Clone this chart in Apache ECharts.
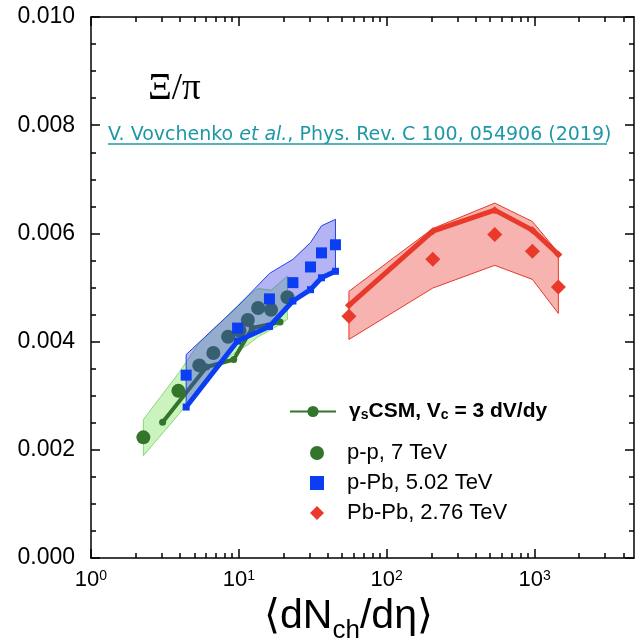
<!DOCTYPE html>
<html><head><meta charset="utf-8">
<script src="https://cdn.jsdelivr.net/npm/echarts@6/dist/echarts.min.js"></script>
<style>html,body{margin:0;padding:0;background:#fff}#c{width:635px;height:643px}</style>
</head><body><div id="c"></div>
<script>
// ---- tick values ----
const xMajorTicks = [1, 10, 100, 1000];
const xMinorTicks = [2,3,4,5,6,7,8,9,20,30,40,50,60,70,80,90,200,300,400,500,600,700,800,900,2000,3000,4000];
const yTickValues = [0, 0.002, 0.004, 0.006, 0.008, 0.010];

// ---- p-p, 7 TeV ----
const ppX = [2.26, 3.90, 5.40, 6.72, 8.45, 10.1, 11.5, 13.5, 16.5, 21.3];
const ppY = [0.00223, 0.00309, 0.00356, 0.00379, 0.00409, 0.00420, 0.00440, 0.00462, 0.00459, 0.00482];
const ppBandUpper = [0.00256, 0.00341, 0.00398, 0.00423, 0.00449, 0.00470, 0.00484, 0.00498, 0.00495, 0.00521];
const ppBandLower = [0.00189, 0.00265, 0.00311, 0.00339, 0.00370, 0.00385, 0.00394, 0.00409, 0.00422, 0.00441];
const ppModelX = [3.05, 6.04, 9.23, 12.3, 19.0];
const ppModelY = [0.00251, 0.00353, 0.00367, 0.00425, 0.00436];

// ---- p-Pb, 5.02 TeV ----
const pPbX = [4.4, 9.8, 16.1, 23.2, 30.5, 36.2, 45];
const pPbY = [0.00338, 0.00425, 0.00479, 0.00509, 0.00538, 0.00564, 0.00579];
const pPbModelY = [0.00279, 0.00401, 0.00428, 0.00475, 0.00496, 0.00518, 0.00530];
const pPbBandUpper = [0.00376, 0.00465, 0.00526, 0.00552, 0.00583, 0.00614, 0.00626];

// ---- Pb-Pb, 2.76 TeV ----
const PbPbX = [55.5, 205, 537.5, 966, 1447.5];
const PbPbY = [0.00447, 0.00552, 0.00598, 0.00567, 0.00501];
const PbPbModelY = [0.00467, 0.00604, 0.00643, 0.00606, 0.00561];
const PbPbBandUpper = [0.00493, 0.00609, 0.00656, 0.00622, 0.00564];
const PbPbBandLower = [0.00404, 0.00499, 0.00541, 0.00515, 0.00452];

const GREEN = '#33752b', BLUE = '#0b3ef2', RED = '#e8392a';
const zip = (xs, ys) => xs.map((x, i) => [x, ys[i]]);

function band(xs, upper, lower, fill, stroke, z) {
  return {
    type: 'custom', z: z, silent: true, animation: false,
    data: [[xs[0], upper[0]]],
    renderItem: function (params, api) {
      const pts = [];
      for (let i = 0; i < xs.length; i++) pts.push(api.coord([xs[i], upper[i]]));
      for (let i = xs.length - 1; i >= 0; i--) pts.push(api.coord([xs[i], lower[i]]));
      return { type: 'polygon', shape: { points: pts }, style: { fill: fill, stroke: stroke, lineWidth: 1 } };
    }
  };
}

const chart = echarts.init(document.getElementById('c'));
const supFmt = v => '{b|10}{s|' + Math.round(Math.log10(v)) + '}';
const axisLineStyle = { color: '#000', width: 1.5 };
const xBase = { type: 'log', logBase: 10, min: 1, max: 4700, gridIndex: 0, splitLine: { show: false } };

chart.setOption({
  animation: false,
  backgroundColor: '#fff',
  grid: { left: 91, right: 1, top: 17, bottom: 85, containLabel: false, outerBoundsMode: 'none' },
  title: [
    { text: 'Ξ/π', left: 143, top: 66, textStyle: { fontFamily: 'Liberation Serif', fontSize: 37, fontWeight: 'normal', color: '#000' } },
    { text: '{n|V. Vovchenko }{i|et al.}{n|, Phys. Rev. C 100, 054906 (2019)}', left: 103, top: 121,
      textStyle: { fontWeight: 'normal', rich: {
        n: { fontFamily: 'DejaVu Sans', fontSize: 19, fontWeight: 'normal', color: '#1e98a6' },
        i: { fontFamily: 'DejaVu Sans', fontSize: 19, fontWeight: 'normal', fontStyle: 'italic', color: '#1e98a6' } } } }
  ],
  graphic: [
    { type: 'line', shape: { x1: 108, y1: 144, x2: 607, y2: 144 }, style: { stroke: '#1e98a6', lineWidth: 1.5 } }
  ],
  legend: [
    { orient: 'vertical', left: 284, top: 396, itemWidth: 46, itemHeight: 14, itemGap: 9,
      data: ['model'],
      formatter: () => '{b|γ}{bs|s}{b|CSM, V}{bs|c}{b| = 3 dV/dy}',
      textStyle: { padding: [0, 0, 0, 8], rich: {
        b: { fontFamily: 'Liberation Sans', fontSize: 21, fontWeight: 'bold', color: '#000' },
        bs: { fontFamily: 'Liberation Sans', fontSize: 14, fontWeight: 'bold', color: '#000', verticalAlign: 'bottom', padding: [8, 0, 0, 0] } } } },
    { orient: 'vertical', left: 305, top: 437, itemWidth: 14, itemHeight: 14, itemGap: 8,
      data: ['p-p, 7 TeV', 'p-Pb, 5.02 TeV', 'Pb-Pb, 2.76 TeV'],
      textStyle: { fontFamily: 'Liberation Sans', fontSize: 22, color: '#000', padding: [0, 0, 0, 18] } }
  ],
  xAxis: [
    Object.assign({}, xBase, { position: 'bottom',
      axisLine: { show: true, lineStyle: axisLineStyle },
      axisTick: { show: true, inside: true, length: 9, customValues: xMajorTicks, lineStyle: axisLineStyle },
      axisLabel: { show: true, customValues: xMajorTicks, formatter: supFmt, margin: 11,
        rich: { b: { fontFamily: 'Liberation Sans', fontSize: 22, color: '#000' },
                s: { fontFamily: 'Liberation Sans', fontSize: 14, color: '#000', verticalAlign: 'top' } } },
      name: '{a|⟨dN}{c|ch}{a|/dη⟩}', nameLocation: 'middle', nameGap: 31,
      nameTextStyle: { padding: [0, 28, 0, 0], rich: {
        a: { fontFamily: 'Liberation Sans', fontSize: 41, color: '#000' },
        c: { fontFamily: 'Liberation Sans', fontSize: 26, color: '#000', verticalAlign: 'bottom', padding: [28, 0, 0, 0] } } } }),
    Object.assign({}, xBase, { position: 'bottom',
      axisLine: { show: false },
      axisTick: { show: true, inside: true, length: 5, customValues: xMinorTicks, lineStyle: axisLineStyle },
      axisLabel: { show: false } }),
    Object.assign({}, xBase, { position: 'top',
      axisLine: { show: true, lineStyle: axisLineStyle },
      axisTick: { show: true, inside: true, length: 9, customValues: xMajorTicks, lineStyle: axisLineStyle },
      axisLabel: { show: false } }),
    Object.assign({}, xBase, { position: 'top',
      axisLine: { show: false },
      axisTick: { show: true, inside: true, length: 5, customValues: xMinorTicks, lineStyle: axisLineStyle },
      axisLabel: { show: false } })
  ],
  yAxis: [
    { type: 'value', position: 'left', min: 0, max: 0.010, interval: 0.002, splitLine: { show: false },
      axisLine: { show: true, lineStyle: axisLineStyle },
      axisTick: { show: true, inside: true, length: 9, lineStyle: axisLineStyle },
      minorTick: { show: true, splitNumber: 4, length: 5, lineStyle: axisLineStyle },
      axisLabel: { formatter: v => v.toFixed(3), margin: 16, fontFamily: 'Liberation Sans', fontSize: 23, color: '#000' } },
    { type: 'value', position: 'right', min: 0, max: 0.010, interval: 0.002, splitLine: { show: false },
      axisLine: { show: true, lineStyle: axisLineStyle },
      axisTick: { show: true, inside: true, length: 9, lineStyle: axisLineStyle },
      minorTick: { show: true, splitNumber: 4, length: 5, lineStyle: axisLineStyle },
      axisLabel: { show: false } }
  ],
  series: [
    band(ppX, ppBandUpper, ppBandLower, 'rgba(140,228,110,0.45)', '#86dc72', 1),
    { name: 'p-p, 7 TeV', type: 'scatter', z: 2, symbol: 'circle', symbolSize: 14, itemStyle: { color: GREEN, opacity: 1 }, data: zip(ppX, ppY) },
    { name: 'model', type: 'line', z: 3, symbol: 'circle', symbolSize: 7, showSymbol: true,
      lineStyle: { color: GREEN, width: 4 }, itemStyle: { color: GREEN }, data: zip(ppModelX, ppModelY) },
    band(pPbX, pPbBandUpper, pPbModelY, 'rgba(60,60,230,0.385)', '#2540ea', 4),
    { type: 'line', z: 5, symbol: 'rect', symbolSize: 7, lineStyle: { color: BLUE, width: 5 }, itemStyle: { color: BLUE }, data: zip(pPbX, pPbModelY) },
    { name: 'p-Pb, 5.02 TeV', type: 'scatter', z: 6, symbol: 'rect', symbolSize: 11, itemStyle: { color: BLUE, opacity: 1 }, data: zip(pPbX, pPbY) },
    band(PbPbX, PbPbBandUpper, PbPbBandLower, 'rgba(230,50,40,0.37)', RED, 4),
    { type: 'line', z: 5, symbol: 'diamond', symbolSize: 8, lineStyle: { color: RED, width: 5 }, itemStyle: { color: RED }, data: zip(PbPbX, PbPbModelY) },
    { name: 'Pb-Pb, 2.76 TeV', type: 'scatter', z: 6, symbol: 'diamond', symbolSize: 15, itemStyle: { color: RED, opacity: 1 }, data: zip(PbPbX, PbPbY) }
  ]
});
</script></body></html>
